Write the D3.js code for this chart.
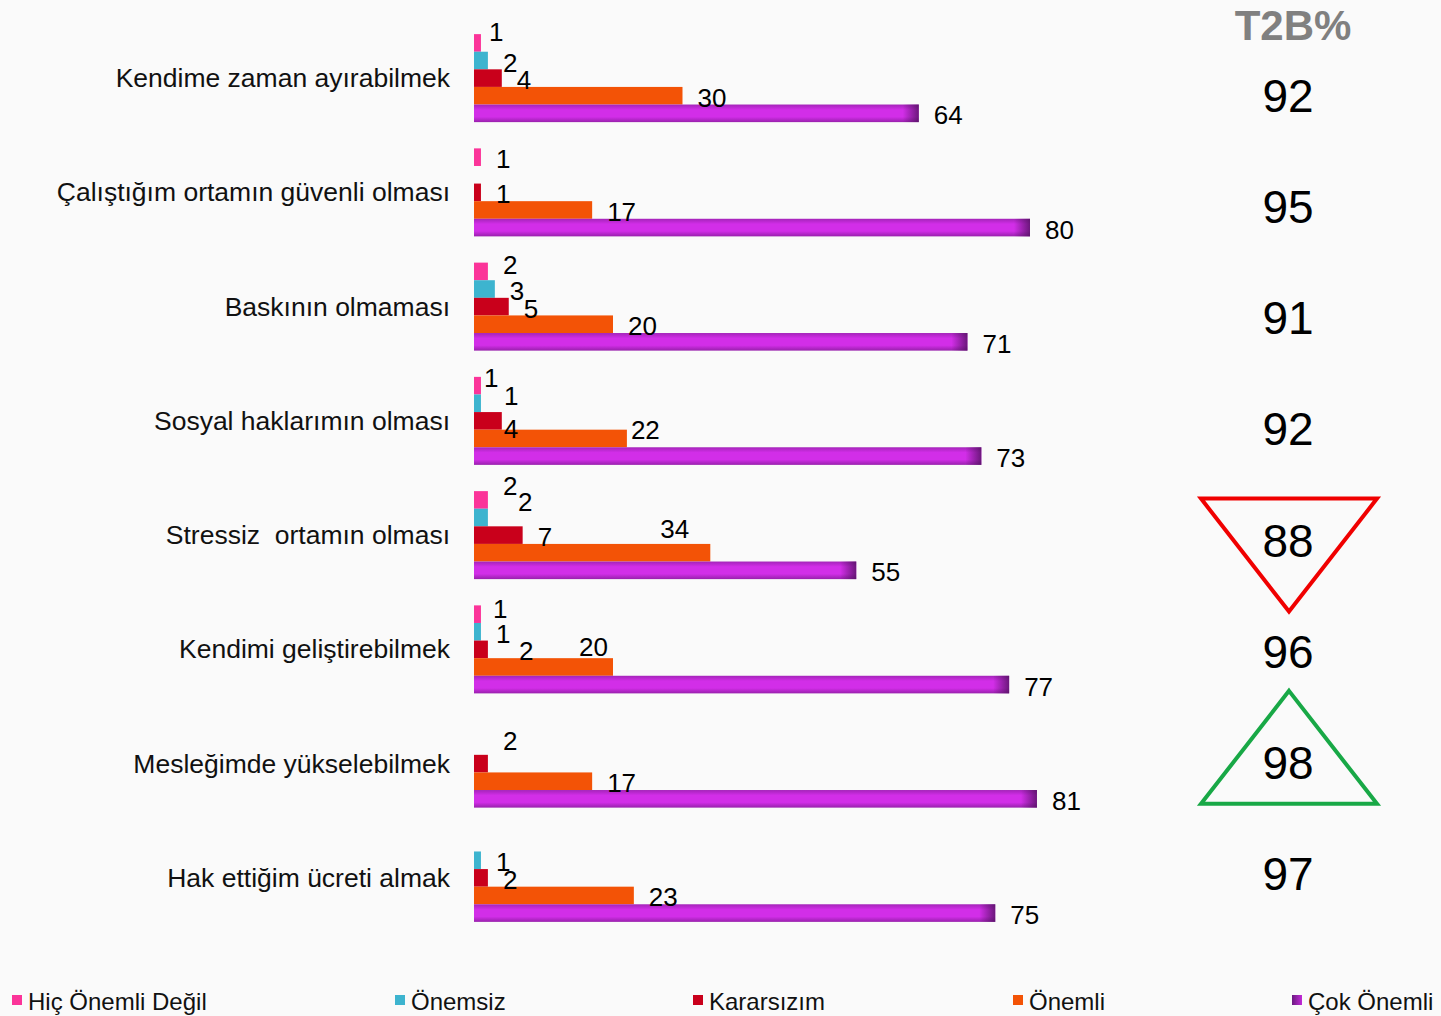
<!DOCTYPE html>
<html><head><meta charset="utf-8">
<script src="https://cdn.jsdelivr.net/npm/d3@7/dist/d3.min.js"></script>
<style>
html,body{margin:0;padding:0;background:#fafafa;}
svg{display:block;font-family:"Liberation Sans",Arial,sans-serif;}
</style></head>
<body><svg id="chart" width="1441" height="1016"></svg>
<script>
const categories = ["Kendime zaman ayırabilmek","Çalıştığım ortamın güvenli olması","Baskının olmaması","Sosyal haklarımın olması","Stressiz  ortamın olması","Kendimi geliştirebilmek","Mesleğimde yükselebilmek","Hak ettiğim ücreti almak"];
const seriesNames = ["Hiç Önemli Değil","Önemsiz","Kararsızım","Önemli","Çok Önemli"];
const hicOnemliDegil = [1,1,2,1,2,1,null,null];
const onemsiz = [2,null,3,1,2,1,null,1];
const kararsizim = [4,1,5,4,7,2,2,2];
const onemli = [30,17,20,22,34,20,17,23];
const cokOnemli = [64,80,71,73,55,77,81,75];
const t2b = [92,95,91,92,88,96,98,97];
const t2bMarker = [null,null,null,null,"down",null,"up",null];

const seriesValues = [hicOnemliDegil, onemsiz, kararsizim, onemli, cokOnemli];
const colors = ["#fb3499","#3db4cf","#c9001b","#f35306","url(#purpleGrad)"];

// label nudges (group index, series index, dx, dy)
const nudges = [[0,0,-7,-13],[2,0,0,-8],[3,0,-12,-10],[3,1,8,-9],[3,2,-13,6],[3,3,-11,-10],
  [4,0,0,-16],[4,1,15,-18],[4,3,-65,-26],[5,0,-3,-7],[5,2,16,0],[5,3,-49,-22],[6,2,0,-25]];
const nudgeMap = new Map(nudges.map(n => [n[0]+"|"+n[1], [n[2], n[3]]]));

const svg = d3.select("#chart");
const defs = svg.append("defs");
const pg = defs.append("linearGradient").attr("id","purpleGrad").attr("x1",0).attr("y1",0).attr("x2",0).attr("y2",1);
pg.append("stop").attr("offset","0%").attr("stop-color","#a424b9");
pg.append("stop").attr("offset","30%").attr("stop-color","#d22ee8");
pg.append("stop").attr("offset","70%").attr("stop-color","#d22ee8");
pg.append("stop").attr("offset","100%").attr("stop-color","#9820ac");
const eg = defs.append("linearGradient").attr("id","endGrad").attr("x1",0).attr("y1",0).attr("x2",1).attr("y2",0);
eg.append("stop").attr("offset","0%").attr("stop-color","#4a0f58").attr("stop-opacity",0);
eg.append("stop").attr("offset","100%").attr("stop-color","#4a0f58").attr("stop-opacity",0.75);
const lg = defs.append("linearGradient").attr("id","legGrad").attr("x1",0).attr("y1",0).attr("x2",1).attr("y2",0);
lg.append("stop").attr("offset","0%").attr("stop-color","#6a1a80");
lg.append("stop").attr("offset","100%").attr("stop-color","#c22ad8");

svg.append("rect").attr("width",1441).attr("height",1016).attr("fill","#fafafa");

const x = d3.scaleLinear().domain([0,100]).range([474,1169]);
const y0 = d3.scaleBand().domain(categories).range([21,935]).padding(0);
const groupH = 88;
const y1 = d3.scaleBand().domain(seriesNames).range([0,groupH]).padding(0);
const off = (y0.bandwidth()-groupH)/2;

// category labels
svg.append("g").selectAll("text").data(categories).join("text")
  .attr("x",450).attr("y",d => y0(d)+y0.bandwidth()/2)
  .attr("text-anchor","end").attr("dominant-baseline","central")
  .attr("font-size",26.5).attr("fill","#111").style("white-space","pre")
  .text(d => d);

const groups = svg.append("g").selectAll("g").data(categories).join("g")
  .attr("transform", d => `translate(0,${y0(d)+off})`);

groups.each(function(cat, gi){
  const g = d3.select(this);
  const items = seriesNames.map((s, si) => ({s, si, v: seriesValues[si][gi]})).filter(d => d.v != null);
  g.selectAll("rect.bar").data(items).join("rect").attr("class","bar")
    .attr("x", x(0)).attr("y", d => y1(d.s))
    .attr("width", d => x(d.v)-x(0)).attr("height", y1.bandwidth())
    .attr("fill", d => colors[d.si]);
  g.selectAll("rect.end").data(items.filter(d => d.si===4)).join("rect").attr("class","end")
    .attr("x", d => x(d.v)-16).attr("y", d => y1(d.s))
    .attr("width",16).attr("height", y1.bandwidth()).attr("fill","url(#endGrad)");
  g.selectAll("text").data(items).join("text")
    .attr("x", d => x(d.v)+15 + (nudgeMap.get(gi+"|"+d.si)||[0,0])[0])
    .attr("y", d => y1(d.s)+y1.bandwidth()/2+2 + (nudgeMap.get(gi+"|"+d.si)||[0,0])[1])
    .attr("dominant-baseline","central").attr("font-size",26).attr("fill","#000")
    .text(d => d.v);
});

// T2B column
svg.append("text").attr("x",1293).attr("y",40).attr("text-anchor","middle")
  .attr("font-size",42).attr("font-weight","bold").attr("fill","#808080").text("T2B%");
const tY = d3.scalePoint().domain(categories).range([96,874]);
svg.append("g").selectAll("text").data(categories).join("text")
  .attr("x",1288).attr("y",c => tY(c))
  .attr("text-anchor","middle").attr("dominant-baseline","central")
  .attr("font-size",46).attr("fill","#000").text((c,i) => t2b[i]);

categories.forEach((c,i) => {
  const m = t2bMarker[i];
  if (!m) return;
  const cy = tY(c);
  const cx = 1289, hw = 88, h = 113;
  let pts;
  if (m === "down") { const top = cy - 42; pts = [[cx-hw,top],[cx+hw,top],[cx,top+h]]; }
  else { const bot = cy + 41; pts = [[cx,bot-h],[cx+hw,bot],[cx-hw,bot]]; }
  svg.append("polygon").attr("points", pts.map(p=>p.join(",")).join(" "))
    .attr("fill","none").attr("stroke", m==="down" ? "#f00000" : "#18a846")
    .attr("stroke-width",4).attr("stroke-linejoin","miter");
});

// legend
const legX = [12,395,693,1013,1292];
const legColors = ["#fb3499","#3db4cf","#c9001b","#f35306","url(#legGrad)"];
const leg = svg.append("g").selectAll("g").data(seriesNames).join("g")
  .attr("transform",(d,i) => `translate(${legX[i]},1000)`);
leg.append("rect").attr("x",0).attr("y",-5).attr("width",10).attr("height",10).attr("fill",(d,i)=>legColors[i]);
leg.append("text").attr("x",16).attr("y",1).attr("dominant-baseline","central")
  .attr("font-size",24).attr("fill","#111").text(d => d);
</script></body></html>
